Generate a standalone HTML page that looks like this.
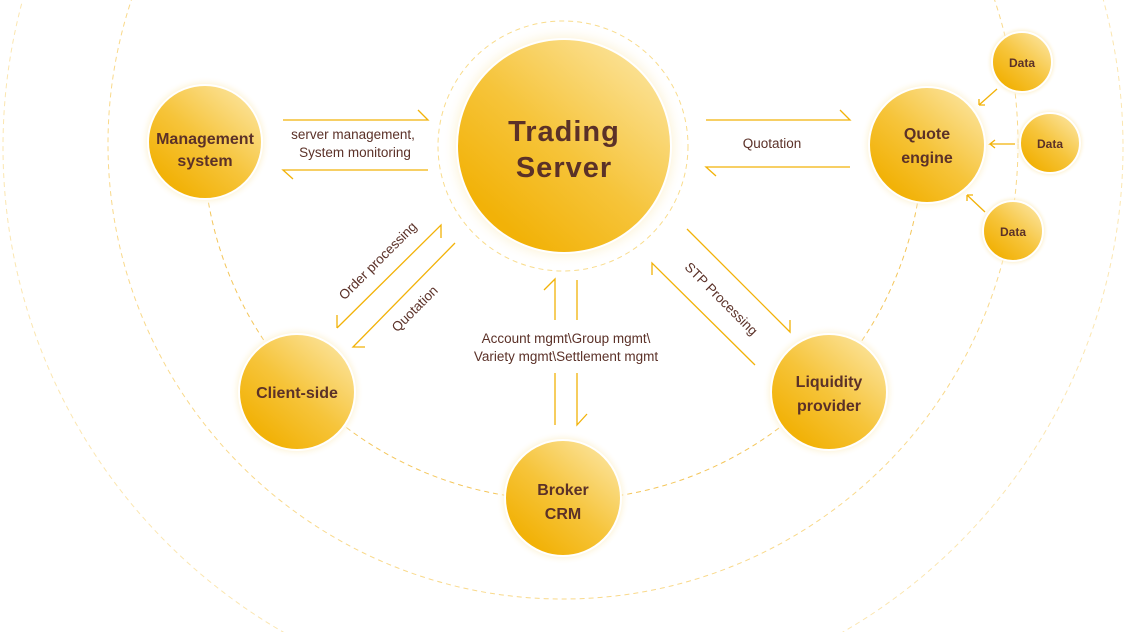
<!DOCTYPE html>
<html style="overflow:hidden;height:632px"><head><meta charset="utf-8"><style>
html,body{margin:0;background:#fff;width:1130px;height:632px;overflow:hidden}
svg{display:block;font-family:"Liberation Sans","DejaVu Sans",sans-serif;overflow:hidden}
</style></head><body>
<svg width="1130" height="632" viewBox="0 0 1130 632">
<defs>
<linearGradient id="g" x1="0.85" y1="0.1" x2="0.2" y2="0.85">
<stop offset="0" stop-color="#fbe194"/><stop offset="0.55" stop-color="#f6c43a"/><stop offset="1" stop-color="#f2b208"/>
</linearGradient>
<radialGradient id="glow"><stop offset="0.8" stop-color="#fbe3a0" stop-opacity="0.8"/><stop offset="1" stop-color="#fff" stop-opacity="0"/></radialGradient>
<clipPath id="c"><rect width="1130" height="632"/></clipPath>
</defs>
<g clip-path="url(#c)">
<g fill="none" stroke-width="1" stroke-dasharray="5,4">
<path d="M203 140A360 360 0 0 0 923 140" stroke="#f4c65a"/>
<circle cx="563" cy="144" r="455" stroke="#f9d98a"/>
<circle cx="563" cy="147" r="560" stroke="#fbe6b0"/>
<circle cx="563" cy="146" r="125" stroke="#f9dc8c"/>
</g>
<g fill="url(#glow)">
<circle cx="564" cy="146" r="122"/>
<circle cx="205" cy="142" r="66"/><circle cx="927" cy="145" r="67"/>
<circle cx="297" cy="392" r="67"/><circle cx="563" cy="498" r="67"/><circle cx="829" cy="392" r="67"/>
<circle cx="1022" cy="62" r="36"/><circle cx="1050" cy="143" r="36"/><circle cx="1013" cy="231" r="36"/>
</g>
<g fill="url(#g)" stroke="#fff" stroke-width="2">
<circle cx="564" cy="146" r="107"/>
<circle cx="205" cy="142" r="57"/><circle cx="927" cy="145" r="58"/>
<circle cx="297" cy="392" r="58"/><circle cx="563" cy="498" r="58"/><circle cx="829" cy="392" r="58"/>
<circle cx="1022" cy="62" r="30"/><circle cx="1050" cy="143" r="30"/><circle cx="1013" cy="231" r="30"/>
</g>
<g fill="none" stroke="#f2b208" stroke-width="1.3">
<path d="M283 120H428L418 110"/><path d="M428 170H283L293 179"/>
<path d="M706 120H850L840 110"/><path d="M850 167H706L716 176"/>
<path d="M441 238V225L337 328"/><path d="M337 315V328"/>
<path d="M455 243L353 347H365"/>
<path d="M544 290L555 279V320M555 373V425"/>
<path d="M577 280V320M577 373V425L587 414"/>
<path d="M687 229L790 332V320"/>
<path d="M652 275V263L755 365"/>
<path d="M997 89L979 105M979 105h6M979 105v-6"/>
<path d="M1015 144H990l5 -4M990 144l5 4"/>
<path d="M985 212L967 195M967 195h6M967 195v6"/>
</g>
<g fill="#5b3128" font-weight="bold" text-anchor="middle">
<text x="564" y="141" font-size="29" letter-spacing="1">Trading</text>
<text x="564" y="177" font-size="29" letter-spacing="1">Server</text>
<text x="205" y="144" font-size="16">Management</text><text x="205" y="166" font-size="16">system</text>
<text x="927" y="139" font-size="16">Quote</text><text x="927" y="163" font-size="16">engine</text>
<text x="297" y="398" font-size="16">Client-side</text>
<text x="563" y="495" font-size="16">Broker</text><text x="563" y="519" font-size="16">CRM</text>
<text x="829" y="387" font-size="16">Liquidity</text><text x="829" y="411" font-size="16">provider</text>
<text x="1022" y="67" font-size="12">Data</text><text x="1050" y="148" font-size="12">Data</text><text x="1013" y="236" font-size="12">Data</text>
</g>
<g fill="#5b3128" font-size="13.5" text-anchor="middle">
<text x="353" y="139">server management,</text>
<text x="355" y="157">System monitoring</text>
<text x="772" y="148">Quotation</text>
<text x="566" y="343">Account mgmt\Group mgmt\</text>
<text x="566" y="361">Variety mgmt\Settlement mgmt</text>
<text transform="translate(381,264) rotate(-45)">Order processing</text>
<text transform="translate(418,312) rotate(-45)">Quotation</text>
<text transform="translate(718,302) rotate(45)">STP Processing</text>
</g>
</g>
</svg>
</body></html>
